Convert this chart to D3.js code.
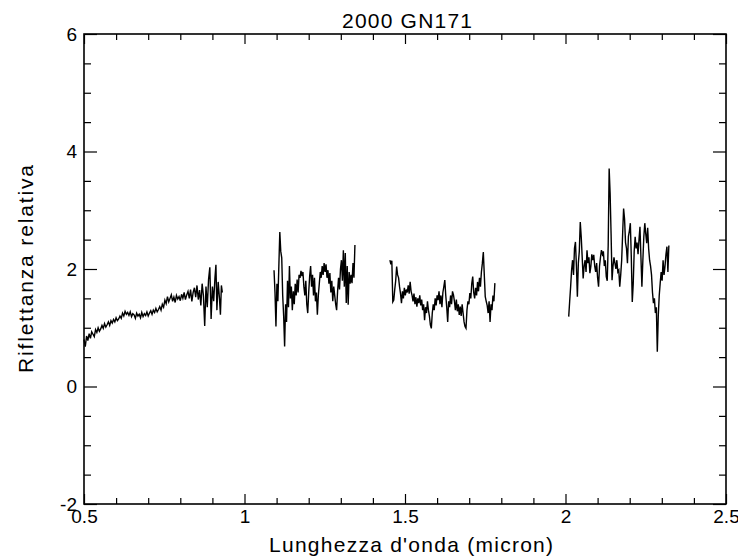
<!DOCTYPE html>
<html>
<head>
<meta charset="utf-8">
<script src="https://cdn.jsdelivr.net/npm/d3@7"></script>
<style>
  body { margin: 0; background: #fff; }
  text { font-family: "Liberation Sans", Arial, sans-serif; fill: #000; }
</style>
</head>
<body>
<div id="chart-container"></div>
<script>
// Spectrum segments: [wavelength (micron), relative reflectance]
const segment1 = [
  [0.500, 0.80], [0.504, 0.68], [0.508, 0.86], [0.512, 0.78], [0.516, 0.90], [0.520, 0.82],
  [0.524, 0.93], [0.528, 0.89], [0.532, 0.85], [0.536, 0.97], [0.540, 0.92], [0.544, 1.00],
  [0.548, 0.94], [0.552, 0.98], [0.556, 1.04], [0.560, 0.99], [0.564, 1.07], [0.568, 1.01],
  [0.572, 1.05], [0.576, 1.10], [0.580, 1.04], [0.584, 1.12], [0.588, 1.08], [0.592, 1.14],
  [0.596, 1.10], [0.600, 1.17], [0.604, 1.12], [0.608, 1.15], [0.612, 1.20], [0.616, 1.16],
  [0.620, 1.25], [0.624, 1.20], [0.628, 1.28], [0.632, 1.23], [0.636, 1.26], [0.640, 1.21],
  [0.644, 1.27], [0.648, 1.19], [0.652, 1.24], [0.656, 1.22], [0.660, 1.16], [0.664, 1.25],
  [0.668, 1.20], [0.672, 1.23], [0.676, 1.17], [0.680, 1.26], [0.684, 1.19], [0.688, 1.24],
  [0.692, 1.21], [0.696, 1.27], [0.700, 1.20], [0.704, 1.25], [0.708, 1.29], [0.712, 1.23],
  [0.716, 1.30], [0.720, 1.26], [0.724, 1.33], [0.728, 1.27], [0.732, 1.31], [0.736, 1.36],
  [0.740, 1.30], [0.744, 1.40], [0.748, 1.35], [0.752, 1.47], [0.756, 1.41], [0.760, 1.53],
  [0.764, 1.44], [0.768, 1.50], [0.772, 1.56], [0.776, 1.45], [0.780, 1.52], [0.784, 1.43],
  [0.788, 1.55], [0.792, 1.49], [0.796, 1.53], [0.800, 1.46], [0.804, 1.57], [0.808, 1.50],
  [0.812, 1.60], [0.816, 1.48], [0.820, 1.56], [0.824, 1.62], [0.828, 1.50], [0.832, 1.65],
  [0.836, 1.45], [0.840, 1.60], [0.844, 1.68], [0.848, 1.52], [0.852, 1.72], [0.856, 1.48],
  [0.860, 1.64], [0.864, 1.38], [0.868, 1.75], [0.872, 1.55], [0.876, 1.03], [0.880, 1.70],
  [0.884, 1.35], [0.888, 1.82], [0.892, 2.03], [0.896, 1.15], [0.900, 1.70], [0.904, 1.45],
  [0.908, 1.85], [0.911, 2.07], [0.914, 1.30], [0.918, 1.78], [0.922, 1.50], [0.925, 1.22],
  [0.928, 1.72], [0.931, 1.60]
];

const segment2 = [
  [1.092, 1.98], [1.095, 1.60], [1.098, 1.02], [1.101, 1.75], [1.104, 1.45], [1.107, 2.05],
  [1.110, 2.63], [1.113, 2.30], [1.116, 2.19], [1.119, 1.55], [1.122, 1.20], [1.125, 0.68],
  [1.128, 1.40], [1.131, 1.10], [1.134, 1.80], [1.137, 1.35], [1.140, 2.05], [1.143, 1.50],
  [1.146, 1.70], [1.149, 1.30], [1.152, 1.62], [1.155, 1.40], [1.158, 1.75], [1.161, 1.55],
  [1.164, 1.82], [1.167, 1.60], [1.170, 1.90], [1.173, 1.85], [1.176, 1.97], [1.179, 1.88],
  [1.182, 1.95], [1.185, 1.70], [1.188, 1.55], [1.191, 1.80], [1.194, 1.40], [1.197, 1.25],
  [1.200, 1.60], [1.203, 1.88], [1.206, 2.05], [1.209, 1.70], [1.212, 1.90], [1.215, 1.55],
  [1.218, 1.85], [1.221, 1.45], [1.224, 1.60], [1.227, 1.22], [1.230, 1.55], [1.233, 1.75],
  [1.236, 1.95], [1.239, 1.85], [1.242, 2.05], [1.245, 1.90], [1.248, 2.10], [1.251, 1.95],
  [1.254, 2.08], [1.257, 1.85], [1.260, 1.98], [1.263, 1.75], [1.266, 1.93], [1.269, 1.60],
  [1.272, 1.80], [1.275, 1.45], [1.278, 1.70], [1.281, 1.55], [1.284, 1.40], [1.287, 1.30],
  [1.290, 1.62], [1.293, 1.85], [1.296, 1.65], [1.299, 2.00], [1.302, 2.15], [1.305, 1.80],
  [1.308, 2.32], [1.311, 1.70], [1.314, 2.27], [1.317, 1.42], [1.320, 2.05], [1.323, 1.39],
  [1.326, 1.95], [1.329, 1.75], [1.332, 1.90], [1.335, 1.76], [1.338, 2.10], [1.341, 1.85],
  [1.344, 2.41]
];

const segment3 = [
  [1.453, 2.15], [1.456, 2.08], [1.459, 2.14], [1.462, 1.44], [1.465, 1.47], [1.468, 1.65],
  [1.471, 1.80], [1.474, 2.04], [1.477, 1.90], [1.480, 1.85], [1.483, 1.70], [1.486, 1.58],
  [1.489, 1.42], [1.492, 1.62], [1.495, 1.50], [1.498, 1.68], [1.501, 1.55], [1.504, 1.65],
  [1.507, 1.60], [1.510, 1.72], [1.513, 1.58], [1.516, 1.78], [1.519, 1.62], [1.522, 1.55],
  [1.525, 1.45], [1.528, 1.58], [1.531, 1.40], [1.534, 1.52], [1.537, 1.36], [1.540, 1.50],
  [1.543, 1.42], [1.546, 1.55], [1.549, 1.38], [1.552, 1.48], [1.555, 1.30], [1.558, 1.40],
  [1.561, 1.13], [1.564, 1.35], [1.567, 1.25], [1.570, 1.45], [1.573, 1.30], [1.576, 1.20],
  [1.579, 1.05], [1.582, 0.99], [1.585, 1.25], [1.588, 1.40], [1.591, 1.30], [1.594, 1.50],
  [1.597, 1.38], [1.600, 1.55], [1.603, 1.47], [1.606, 1.62], [1.609, 1.40], [1.612, 1.55],
  [1.615, 1.35], [1.618, 1.60], [1.621, 1.70], [1.624, 1.81], [1.627, 1.55], [1.630, 1.35],
  [1.633, 1.10], [1.636, 1.45], [1.639, 1.35], [1.642, 1.55], [1.645, 1.40], [1.648, 1.62],
  [1.651, 1.56], [1.654, 1.45], [1.657, 1.30], [1.660, 1.48], [1.663, 1.28], [1.666, 1.40],
  [1.669, 1.22], [1.672, 1.36], [1.675, 1.20], [1.678, 1.40], [1.681, 1.25], [1.684, 1.10],
  [1.687, 1.02], [1.690, 0.99], [1.693, 1.30], [1.696, 1.45], [1.699, 1.40], [1.702, 1.59],
  [1.705, 1.50], [1.708, 1.75], [1.711, 1.87], [1.714, 1.60], [1.717, 1.50], [1.720, 1.68],
  [1.723, 1.55], [1.726, 1.78], [1.729, 1.62], [1.732, 1.85], [1.735, 1.70], [1.738, 1.95],
  [1.741, 2.10], [1.744, 2.29], [1.747, 1.90], [1.750, 1.53], [1.753, 1.45], [1.756, 1.38],
  [1.759, 1.25], [1.762, 1.45], [1.765, 1.10], [1.768, 1.40], [1.771, 1.30], [1.774, 1.55],
  [1.777, 1.45], [1.780, 1.76]
];

const segment4 = [
  [2.010, 1.19], [2.013, 1.45], [2.016, 1.70], [2.019, 1.98], [2.022, 2.15], [2.025, 1.90],
  [2.028, 2.35], [2.031, 2.46], [2.034, 2.05], [2.037, 1.53], [2.040, 2.10], [2.043, 2.30],
  [2.046, 2.80], [2.049, 2.55], [2.052, 2.20], [2.055, 1.84], [2.058, 2.05], [2.061, 2.15],
  [2.064, 1.95], [2.067, 2.32], [2.070, 2.10], [2.073, 2.20], [2.076, 1.93], [2.079, 2.05],
  [2.082, 2.25], [2.085, 2.15], [2.088, 2.24], [2.091, 2.05], [2.094, 1.95], [2.097, 2.10],
  [2.100, 1.85], [2.103, 1.70], [2.106, 2.05], [2.109, 2.20], [2.112, 2.32], [2.115, 2.25],
  [2.118, 2.30], [2.121, 2.05], [2.124, 2.15], [2.127, 1.87], [2.130, 1.80], [2.133, 2.40],
  [2.136, 3.71], [2.139, 3.29], [2.142, 2.60], [2.145, 1.81], [2.148, 2.05], [2.151, 2.20],
  [2.154, 2.10], [2.157, 2.00], [2.160, 2.15], [2.163, 1.95], [2.166, 1.98], [2.169, 1.70],
  [2.172, 1.90], [2.175, 2.15], [2.178, 2.60], [2.181, 3.03], [2.184, 2.85], [2.187, 2.45],
  [2.190, 2.35], [2.193, 2.10], [2.196, 2.55], [2.199, 2.65], [2.202, 2.78], [2.205, 2.20],
  [2.208, 1.44], [2.211, 1.75], [2.214, 2.30], [2.217, 2.55], [2.220, 2.35], [2.223, 2.45],
  [2.226, 2.25], [2.229, 2.50], [2.232, 2.72], [2.235, 2.20], [2.238, 1.70], [2.241, 2.15],
  [2.244, 2.55], [2.247, 2.78], [2.250, 2.60], [2.253, 2.44], [2.256, 2.70], [2.259, 2.35],
  [2.262, 2.15], [2.265, 2.05], [2.268, 1.90], [2.271, 1.60], [2.274, 1.42], [2.277, 1.50],
  [2.280, 1.25], [2.283, 1.35], [2.286, 0.59], [2.289, 1.20], [2.292, 1.55], [2.295, 1.76],
  [2.298, 1.95], [2.301, 1.80], [2.304, 2.15], [2.307, 1.90], [2.310, 2.05], [2.313, 2.25],
  [2.316, 2.38], [2.319, 1.95], [2.322, 2.40]
];

const segments = [segment1, segment2, segment3, segment4];

// Tick values
const xMajorTicks = [0.5, 1, 1.5, 2, 2.5];
const xMinorTicks = [0.6, 0.7, 0.8, 0.9, 1.1, 1.2, 1.3, 1.4, 1.6, 1.7, 1.8, 1.9, 2.1, 2.2, 2.3, 2.4];
const yMajorTicks = [-2, 0, 2, 4, 6];
const yMinorTicks = [-1.5, -1, -0.5, 0.5, 1, 1.5, 2.5, 3, 3.5, 4.5, 5, 5.5];

const chartTitle = '2000 GN171';
const xLabel = "Lunghezza d'onda (micron)";
const yLabel = 'Riflettanza relativa';

// Dimensions
const width = 738;
const height = 560;
const margin = { top: 34, right: 12, bottom: 56, left: 84 };
const innerWidth = width - margin.left - margin.right;
const innerHeight = height - margin.top - margin.bottom;

const svg = d3.select('#chart-container')
  .append('svg')
  .attr('width', width)
  .attr('height', height);

svg.append('rect')
  .attr('width', width)
  .attr('height', height)
  .attr('fill', '#fff');

const g = svg.append('g')
  .attr('transform', `translate(${margin.left},${margin.top})`);

// Scales
const xScale = d3.scaleLinear().domain([0.5, 2.5]).range([0, innerWidth]);
const yScale = d3.scaleLinear().domain([-2, 6]).range([innerHeight, 0]);

const fmt = (d) => String(d);

// Axes: all ticks point inward, labels only on bottom and left
function drawAxis(axis, transform, labelled) {
  const a = g.append('g')
    .attr('transform', transform)
    .attr('font-size', 19)
    .call(axis);
  a.select('.domain').remove();
  a.selectAll('line').attr('stroke', '#000').attr('stroke-width', 1.2);
  a.selectAll('text')
    .style('font-size', '19px')
    .style('font-family', '"Liberation Sans", Arial, sans-serif')
    .attr('fill', '#000');
  if (!labelled) a.selectAll('text').remove();
  return a;
}

drawAxis(d3.axisBottom(xScale).tickValues(xMajorTicks).tickSize(-10).tickPadding(6).tickFormat(fmt),
  `translate(0,${innerHeight})`, true);
drawAxis(d3.axisBottom(xScale).tickValues(xMinorTicks).tickSize(-6).tickFormat(''),
  `translate(0,${innerHeight})`, false);
drawAxis(d3.axisTop(xScale).tickValues(xMajorTicks).tickSize(-10).tickFormat(''),
  'translate(0,0)', false);
drawAxis(d3.axisTop(xScale).tickValues(xMinorTicks).tickSize(-6).tickFormat(''),
  'translate(0,0)', false);

drawAxis(d3.axisLeft(yScale).tickValues(yMajorTicks).tickSize(-13).tickPadding(7).tickFormat(fmt),
  'translate(0,0)', true);
drawAxis(d3.axisLeft(yScale).tickValues(yMinorTicks).tickSize(-7).tickFormat(''),
  'translate(0,0)', false);
drawAxis(d3.axisRight(yScale).tickValues(yMajorTicks).tickSize(-13).tickFormat(''),
  `translate(${innerWidth},0)`, false);
drawAxis(d3.axisRight(yScale).tickValues(yMinorTicks).tickSize(-7).tickFormat(''),
  `translate(${innerWidth},0)`, false);

// Spectrum lines
const line = d3.line()
  .x((d) => xScale(d[0]))
  .y((d) => yScale(d[1]));

g.selectAll('path.spectrum')
  .data(segments)
  .enter()
  .append('path')
  .attr('class', 'spectrum')
  .attr('d', line)
  .attr('fill', 'none')
  .attr('stroke', '#000')
  .attr('stroke-width', 1.4)
  .attr('stroke-linejoin', 'miter');

// Plot frame
g.append('rect')
  .attr('width', innerWidth)
  .attr('height', innerHeight)
  .attr('fill', 'none')
  .attr('stroke', '#000')
  .attr('stroke-width', 1.6);

// Title and axis labels
svg.append('text')
  .attr('x', margin.left + innerWidth / 2 + 2)
  .attr('y', 28)
  .attr('text-anchor', 'middle')
  .attr('textLength', 130)
  .style('font-size', '21px')
  .text(chartTitle);

svg.append('text')
  .attr('x', margin.left + innerWidth / 2 + 6)
  .attr('y', 552)
  .attr('text-anchor', 'middle')
  .attr('textLength', 284)
  .style('font-size', '21px')
  .text(xLabel);

svg.append('text')
  .attr('transform', `translate(33,${margin.top + innerHeight / 2}) rotate(-90)`)
  .attr('text-anchor', 'middle')
  .attr('textLength', 208)
  .style('font-size', '21px')
  .text(yLabel);
</script>
</body>
</html>
